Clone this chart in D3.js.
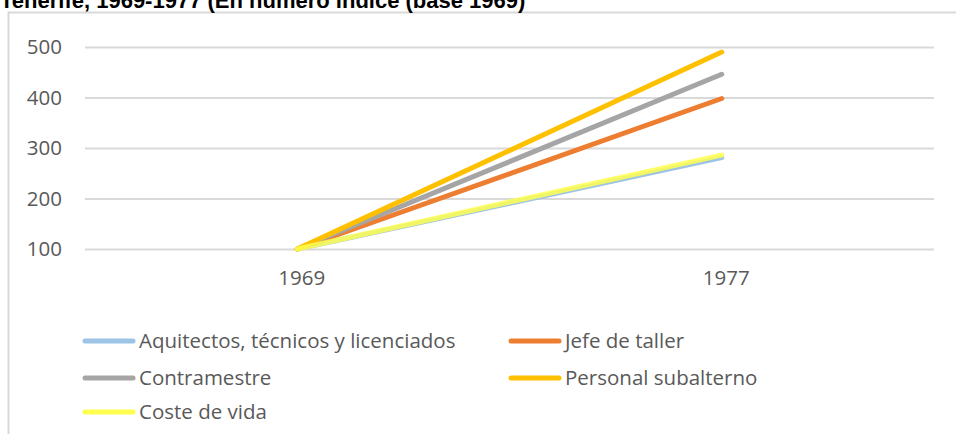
<!DOCTYPE html>
<html><head><meta charset="utf-8">
<script src="https://cdn.jsdelivr.net/npm/d3@7"></script>
<style>body{margin:0;background:#fff;}svg{display:block;}</style>
</head><body>
<svg id="c" width="956" height="434"></svg>
<script>
const title = "Tenerife, 1969-1977 (En número índice (base 1969)";
const years = ["1969", "1977"];
const yTicks = [100, 200, 300, 400, 500];
const seriesNames = ["Aquitectos, técnicos y licenciados", "Jefe de taller", "Contramestre", "Personal subalterno", "Coste de vida"];
const seriesColors = ["#9DC3E6", "#ED7D31", "#A5A5A5", "#FFC000", "#FFFF4D"];
const aquitectos = [100, 281];
const jefeTaller = [100, 398];
const contramestre = [100, 446];
const personalSub = [100, 490];
const costeVida = [100, 286];
const allValues = [aquitectos, jefeTaller, contramestre, personalSub, costeVida];

const svg = d3.select("#c");
const font = "'Open Sans', Lato, sans-serif";

// chart box border
svg.append("path").attr("d", "M8.5,434 V12.5 H956").attr("fill","none").attr("stroke","#D9D9D9").attr("stroke-width",2);

svg.append("text").attr("x", 0).attr("y", 8).text(title)
  .attr("font-family","Liberation Sans, Arial, sans-serif").attr("font-weight","bold").attr("font-size",22).attr("fill","#000");

const x = d3.scalePoint().domain(years).range([85, 934]).padding(0.5);
const y = d3.scaleLinear().domain([100, 500]).range([249, 47]);

const gy = svg.append("g").attr("transform","translate(85,0)")
  .call(d3.axisLeft(y).tickValues(yTicks).tickSize(-849).tickPadding(23));
gy.select(".domain").remove();
gy.selectAll(".tick line").attr("stroke","#D9D9D9").attr("stroke-width",2);
gy.selectAll(".tick text").attr("font-family",font).attr("font-size",20.5).attr("fill","#595959");

const gx = svg.append("g").attr("transform","translate(0,249)")
  .call(d3.axisBottom(x).tickSize(0).tickPadding(21));
gx.select(".domain").remove();
gx.selectAll(".tick text").attr("font-family",font).attr("font-size",20.5).attr("fill","#595959").attr("dx", 4);

const line = d3.line().x((d,i)=>x(years[i])).y(d=>y(d));
allValues.forEach((vals, k) => {
  svg.append("path").datum(vals).attr("d", line).attr("fill","none")
    .attr("stroke", seriesColors[k]).attr("stroke-width",5).attr("stroke-linecap","round")
    .attr("stroke-opacity", k===4 ? 0.85 : 1);
});

// legend
const legPos = [[83,341],[509,341],[83,378],[509,378],[83,412]];
seriesNames.forEach((n,k)=>{
  const [lx,ly] = legPos[k];
  svg.append("line").attr("x1",lx+2).attr("x2",lx+50).attr("y1",ly).attr("y2",ly)
    .attr("stroke",seriesColors[k]).attr("stroke-width",5).attr("stroke-linecap","round");
  svg.append("text").attr("x",lx+56).attr("y",ly+7).text(n)
    .attr("font-family",font).attr("font-size",20.5).attr("fill","#595959");
});
</script>
</body></html>
